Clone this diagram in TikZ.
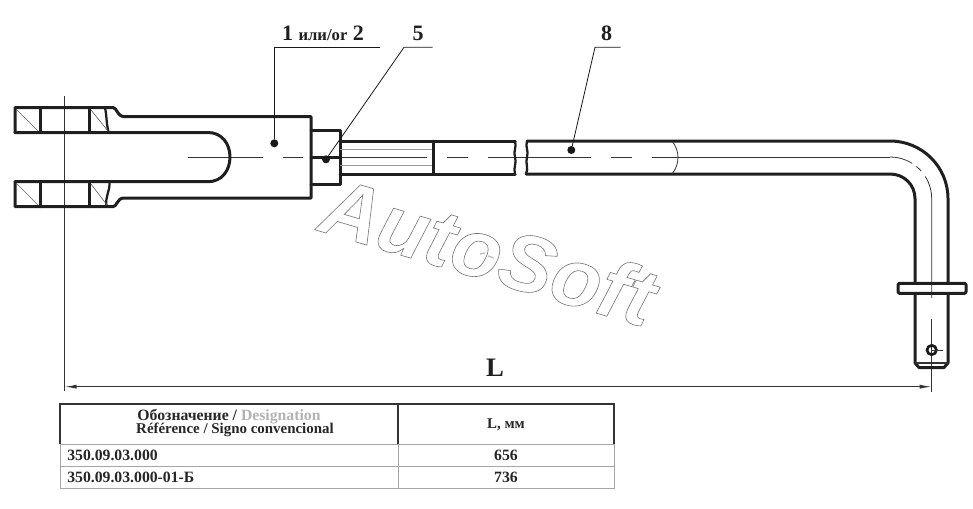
\documentclass[tikz,border=0pt]{standalone}
\usepackage{fontspec}
\setmainfont{Liberation Serif}
\newfontfamily\marksans{Liberation Sans}
\usetikzlibrary{arrows.meta}
\tikzset{
  thickline/.style={line width=2.25pt, draw=black!88, line join=round, line cap=round},
  breakline/.style={line width=1.7pt, draw=black!88, line cap=round},
  thinline/.style={line width=0.6pt, draw=black!80},
  hatchline/.style={line width=0.5pt, draw=black!60},
  threadline/.style={line width=0.6pt, draw=black!40},
  leaderdot/.style={circle, fill=black!90, inner sep=0pt, minimum size=6pt},
  leaderline/.style={line width=0.6pt, draw=black!90},
  poslabel/.style={font=\fontsize{16.5}{17}\selectfont\bfseries, text=black!88, inner sep=0pt},
  cell/.style={font=\fontsize{11.2}{11.2}\selectfont\bfseries, text=black!85, inner sep=0pt, align=center},
  rowcell/.style={cell, font=\fontsize{11.8}{11.8}\selectfont\bfseries},
  tablegrey/.style={line width=0.7pt, draw=black!35},
  tabledark/.style={line width=1pt, draw=black!80},
}
\begin{document}
\begin{tikzpicture}[x=0.75pt, y=-0.75pt]
    \useasboundingbox (0,0) rectangle (973,508);

    % Watermark
    \node[inner sep=0pt, rotate=-16.5] (mark) at (489,251) {\special{pdf:code q 1 Tr 0.45 w 0.45 G}\fontsize{61}{61}\marksans\bfseries\itshape AutoSoft\special{pdf:code Q}};
    \draw[line width=1pt, draw=black!25] (480,254) -- (485,253) (488,256) -- (494,258);

    % Centre lines
    \draw[thinline, dash pattern=on 230pt off 2.5pt on 2.5pt off 2.5pt on 100pt] (64.5,96) -- (64.5,391);
    \draw[thinline] (188,157) -- (263,157) (283,157) -- (303,157) (323,157) -- (427,157);
    \draw[thinline] (447,157) -- (468,157) (488,157) -- (591,157) (611,157) -- (632,157) (652,157) -- (890,157);
    \draw[thinline, dash pattern=on 17.5pt off 4pt on 5pt off 5pt on 100pt] (890,157) .. controls (913,157) and (931.7,175.7) .. (931.7,198.7) -- (931.7,298);
    \draw[thinline] (931.7,319) -- (931.7,392);

    % Fork and body
    \draw[thickline] (15,132.5) -- (15,107.5) -- (113,107.5) .. controls (117,107.5) and (117,116.5) .. (124,116.5) -- (311,116.5) -- (311,198) -- (124,198) .. controls (117,198) and (117,206.7) .. (113,206.7) -- (15,206.7) -- (15,181.7);
    \draw[thickline] (15,132.5) -- (208,132.5) .. controls (221.6,132.5) and (230,143.5) .. (230,157) .. controls (230,170.7) and (221.6,181.7) .. (208,181.7) -- (15,181.7);
    \draw[thickline] (40,107.5) -- (40,132.5) (89.5,107.5) -- (89.5,132.5) (40,181.7) -- (40,206.7) (89.5,181.7) -- (89.5,206.7);
    \draw[breakline] (105,108) .. controls (107,116) and (106,122) .. (108.5,132);
    \draw[breakline] (109.5,182) .. controls (110,192) and (105,196) .. (106.5,206);
    \draw[hatchline] (17,110) -- (38,131) (91,110) -- (108,131) (17,184) -- (38,205) (91,184) -- (107,205);

    % Nut
    \draw[thickline] (311,130.7) -- (340,130.7) -- (340,184) -- (311,184);
    \draw[thickline] (311,157) -- (340,157);

    % Threaded shaft
    \draw[threadline] (340,149.3) -- (433,149.3) (340,165) -- (433,165);
    \draw[thickline] (515,141) -- (340,141) (340,174) -- (515,174) (433,141) -- (433,174);
    \draw[breakline] (515,141) .. controls (517,147) and (513,151) .. (515,157) .. controls (517,163) and (513,168) .. (515,174);

    % Rod with bend
    \draw[breakline] (527,141) .. controls (525,147) and (529,151) .. (527,157) .. controls (525,163) and (529,168) .. (526,174);
    \draw[thickline] (527,141) -- (890,141) .. controls (922,141) and (948,166.7) .. (948,198.7) -- (948,283.3);
    \draw[thickline] (526,174) -- (890,174) .. controls (903.8,174) and (915,184.5) .. (915,198.7) -- (915,283.3);
    \draw[thinline] (672,141) .. controls (680,151) and (680,164) .. (672,174);

    % Collar and tip
    \draw[thickline, rounded corners=1pt] (898,283.3) rectangle (966,293.3);
    \draw[thickline] (915,293.3) -- (915,363) -- (919,367.5) -- (944,367.5) -- (948,363) -- (948,293.3);
    \draw[thinline, line width=0.8pt] (915,363) -- (948,363);
    \node[circle, draw=black!90, line width=2pt, inner sep=0pt, minimum size=7pt] (hole) at (931.7,350) {};
    \draw[thinline] (hole.center) -- (942.7,350);

    % Leaders
    \node[leaderdot] (dotA) at (274.3,143.3) {};
    \node[leaderdot] (dotB) at (326,159.3) {};
    \node[leaderdot] (dotC) at (571.3,150) {};
    \coordinate (kneeA) at (274.3,47.3);
    \coordinate (endA) at (380,47.3);
    \coordinate (kneeB) at (404,47.3);
    \coordinate (endB) at (432.7,47.3);
    \coordinate (kneeC) at (595,47.3);
    \coordinate (endC) at (620.7,47.3);
    \draw[leaderline] (dotA) -- (kneeA) -- (endA);
    \draw[leaderline] (dotB) -- (kneeB) -- (endB);
    \draw[leaderline] (dotC) -- (kneeC) -- (endC);
    \node[poslabel] (labA) at (323,33) {1 {\fontsize{12.5}{12.5}\selectfont или/or} 2};
    \node[poslabel] (labB) at (418,33) {5};
    \node[poslabel] (labC) at (606.7,33) {8};

    % Dimension
    \coordinate (dimL) at (64.5,386.7);
    \coordinate (dimR) at (931.7,386.7);
    \draw[thinline, line width=0.8pt, {Latex[length=9pt,width=3pt]}-{Latex[length=9pt,width=3pt]}] (dimL) -- (dimR);
    \node[font=\fontsize{20}{20}\selectfont\bfseries, text=black!88, inner sep=0pt] (dimlabel) at (495,368) {L};

    % Table
    \draw[tablegrey] (60,444) rectangle (614,488);
    \draw[tablegrey] (60,466.5) -- (614,466.5) (398,444) -- (398,488);
    \draw[tabledark] (60,444) -- (60,404) -- (614,404) -- (614,444) (398,404) -- (398,444);
    \node[rowcell] (headA) at (229,417) {Обозначение / \textcolor{black!30}{Designation}};
    \node[cell] (headB) at (235,429.5) {Référence / Signo convencional};
    \node[cell] (headC) at (506,424.5) {L, мм};
    \node[rowcell, anchor=west] (rowA) at (67,455.5) {350.09.03.000};
    \node[rowcell, anchor=west] (rowB) at (67,477.5) {350.09.03.000-01-Б};
    \node[rowcell] (valA) at (506,455.5) {656};
    \node[rowcell] (valB) at (506,477.5) {736};
\end{tikzpicture}
\end{document}
